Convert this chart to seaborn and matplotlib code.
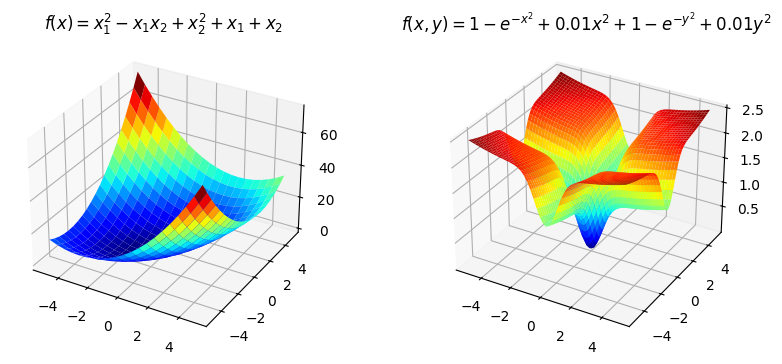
import numpy as np
import matplotlib
matplotlib.use('Agg')
import matplotlib.pyplot as plt
import seaborn as sns

# left surface, values read on a 0.5 grid
grid_left = [-5, -4.5, -4, -3.5, -3, -2.5, -2, -1.5, -1, -0.5, 0, 0.5, 1, 1.5, 2, 2.5, 3, 3.5, 4, 4.5, 5]
z_left = [
    [15, 13.25, 12, 11.25, 11, 11.25, 12, 13.25, 15, 17.25, 20, 23.25, 27, 31.25, 36, 41.25, 47, 53.25, 60, 67.25, 75],
    [13.25, 11.25, 9.75, 8.75, 8.25, 8.25, 8.75, 9.75, 11.25, 13.25, 15.75, 18.75, 22.25, 26.25, 30.75, 35.75, 41.25, 47.25, 53.75, 60.75, 68.25],
    [12, 9.75, 8, 6.75, 6, 5.75, 6, 6.75, 8, 9.75, 12, 14.75, 18, 21.75, 26, 30.75, 36, 41.75, 48, 54.75, 62],
    [11.25, 8.75, 6.75, 5.25, 4.25, 3.75, 3.75, 4.25, 5.25, 6.75, 8.75, 11.25, 14.25, 17.75, 21.75, 26.25, 31.25, 36.75, 42.75, 49.25, 56.25],
    [11, 8.25, 6, 4.25, 3, 2.25, 2, 2.25, 3, 4.25, 6, 8.25, 11, 14.25, 18, 22.25, 27, 32.25, 38, 44.25, 51],
    [11.25, 8.25, 5.75, 3.75, 2.25, 1.25, 0.75, 0.75, 1.25, 2.25, 3.75, 5.75, 8.25, 11.25, 14.75, 18.75, 23.25, 28.25, 33.75, 39.75, 46.25],
    [12, 8.75, 6, 3.75, 2, 0.75, 0, -0.25, 0, 0.75, 2, 3.75, 6, 8.75, 12, 15.75, 20, 24.75, 30, 35.75, 42],
    [13.25, 9.75, 6.75, 4.25, 2.25, 0.75, -0.25, -0.75, -0.75, -0.25, 0.75, 2.25, 4.25, 6.75, 9.75, 13.25, 17.25, 21.75, 26.75, 32.25, 38.25],
    [15, 11.25, 8, 5.25, 3, 1.25, 0, -0.75, -1, -0.75, 0, 1.25, 3, 5.25, 8, 11.25, 15, 19.25, 24, 29.25, 35],
    [17.25, 13.25, 9.75, 6.75, 4.25, 2.25, 0.75, -0.25, -0.75, -0.75, -0.25, 0.75, 2.25, 4.25, 6.75, 9.75, 13.25, 17.25, 21.75, 26.75, 32.25],
    [20, 15.75, 12, 8.75, 6, 3.75, 2, 0.75, 0, -0.25, 0, 0.75, 2, 3.75, 6, 8.75, 12, 15.75, 20, 24.75, 30],
    [23.25, 18.75, 14.75, 11.25, 8.25, 5.75, 3.75, 2.25, 1.25, 0.75, 0.75, 1.25, 2.25, 3.75, 5.75, 8.25, 11.25, 14.75, 18.75, 23.25, 28.25],
    [27, 22.25, 18, 14.25, 11, 8.25, 6, 4.25, 3, 2.25, 2, 2.25, 3, 4.25, 6, 8.25, 11, 14.25, 18, 22.25, 27],
    [31.25, 26.25, 21.75, 17.75, 14.25, 11.25, 8.75, 6.75, 5.25, 4.25, 3.75, 3.75, 4.25, 5.25, 6.75, 8.75, 11.25, 14.25, 17.75, 21.75, 26.25],
    [36, 30.75, 26, 21.75, 18, 14.75, 12, 9.75, 8, 6.75, 6, 5.75, 6, 6.75, 8, 9.75, 12, 14.75, 18, 21.75, 26],
    [41.25, 35.75, 30.75, 26.25, 22.25, 18.75, 15.75, 13.25, 11.25, 9.75, 8.75, 8.25, 8.25, 8.75, 9.75, 11.25, 13.25, 15.75, 18.75, 22.25, 26.25],
    [47, 41.25, 36, 31.25, 27, 23.25, 20, 17.25, 15, 13.25, 12, 11.25, 11, 11.25, 12, 13.25, 15, 17.25, 20, 23.25, 27],
    [53.25, 47.25, 41.75, 36.75, 32.25, 28.25, 24.75, 21.75, 19.25, 17.25, 15.75, 14.75, 14.25, 14.25, 14.75, 15.75, 17.25, 19.25, 21.75, 24.75, 28.25],
    [60, 53.75, 48, 42.75, 38, 33.75, 30, 26.75, 24, 21.75, 20, 18.75, 18, 17.75, 18, 18.75, 20, 21.75, 24, 26.75, 30],
    [67.25, 60.75, 54.75, 49.25, 44.25, 39.75, 35.75, 32.25, 29.25, 26.75, 24.75, 23.25, 22.25, 21.75, 21.75, 22.25, 23.25, 24.75, 26.75, 29.25, 32.25],
    [75, 68.25, 62, 56.25, 51, 46.25, 42, 38.25, 35, 32.25, 30, 28.25, 27, 26.25, 26, 26.25, 27, 28.25, 30, 32.25, 35],
]

# right surface: one valley profile per axis, 0.2 apart
grid_right = [-5, -4.8, -4.6, -4.4, -4.2, -4, -3.8, -3.6, -3.4, -3.2, -3, -2.8, -2.6, -2.4, -2.2, -2, -1.8, -1.6, -1.4, -1.2, -1, -0.8, -0.6, -0.4, -0.2, 0,
              0.2, 0.4, 0.6, 0.8, 1, 1.2, 1.4, 1.6, 1.8, 2, 2.2, 2.4, 2.6, 2.8, 3, 3.2, 3.4, 3.6, 3.8, 4, 4.2, 4.4, 4.6, 4.8, 5]
profile_right = [1.25, 1.2304, 1.2116, 1.1936, 1.1764, 1.16, 1.1444, 1.1296, 1.1156, 1.1024, 1.0899, 1.078, 1.0664, 1.0544, 1.0405, 1.0217,
                 0.9932, 0.9483, 0.8787, 0.7775, 0.6421, 0.4791, 0.3059, 0.1495, 0.0396, 0,
                 0.0396, 0.1495, 0.3059, 0.4791, 0.6421, 0.7775, 0.8787, 0.9483, 0.9932, 1.0217,
                 1.0405, 1.0544, 1.0664, 1.078, 1.0899, 1.1024, 1.1156, 1.1296, 1.1444, 1.16, 1.1764, 1.1936, 1.2116, 1.2304, 1.25]

title_left = r'$f(x) = x_1^2 - x_1 x_2 + x_2^2 + x_1 + x_2$'
title_right = r'$f(x, y) = 1 - e^{-x^2} + 0.01x^2 + 1 - e^{-y^2} + 0.01y^2$'
ticks_xy = [-4, -2, 0, 2, 4]
ticks_z_left = [0, 20, 40, 60]
ticks_z_right = [0.5, 1.0, 1.5, 2.0, 2.5]

# color_palette refuses jet, mpl_palette does not
jet = sns.mpl_palette('jet', as_cmap=True)

W, H = 782, 364
fig = plt.figure(figsize=(W / 100, H / 100), dpi=100)

ax1 = fig.add_axes([10 / W, 18 / H, 308 / W, 308 / H], projection='3d')
X, Y = np.meshgrid(grid_left, grid_left)
ax1.plot_surface(X, Y, np.array(z_left), cmap=jet, rstride=1, cstride=1, linewidth=0)
ax1.set_xticks(ticks_xy)
ax1.set_yticks(ticks_xy)
ax1.set_zticks(ticks_z_left)
fig.text(164 / W, 1 - 24 / H, title_left, ha='center', va='center', fontsize=12)

ax2 = fig.add_axes([433 / W, 18 / H, 308 / W, 308 / H], projection='3d')
X2, Y2 = np.meshgrid(grid_right, grid_right)
z_right = np.add.outer(profile_right, profile_right)
ax2.plot_surface(X2, Y2, z_right, cmap=jet, rstride=1, cstride=1, linewidth=0)
ax2.set_xticks(ticks_xy)
ax2.set_yticks(ticks_xy)
ax2.set_zticks(ticks_z_right)
fig.text(586 / W, 1 - 24 / H, title_right, ha='center', va='center', fontsize=12)

fig.savefig('out.png', dpi=100)
